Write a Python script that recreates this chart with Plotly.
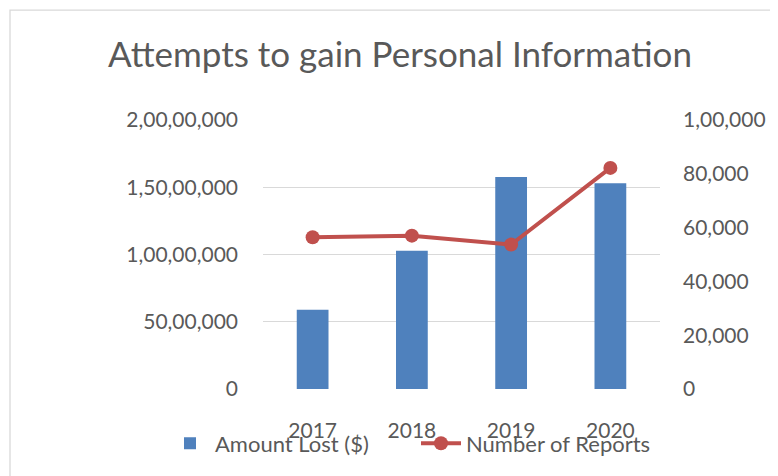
import plotly.graph_objects as go

years = ["2017", "2018", "2019", "2020"]
amount_lost = [5900000, 10270000, 15760000, 15290000]
num_reports = [56400, 57000, 53700, 82200]

left_tickvals = [0, 5000000, 10000000, 15000000, 20000000]
left_ticktext = ["0", "50,00,000", "1,00,00,000", "1,50,00,000", "2,00,00,000"]
right_tickvals = [0, 20000, 40000, 60000, 80000, 100000]
right_ticktext = ["0", "20,000", "40,000", "60,000", "80,000", "1,00,000"]

TEXT = "#595959"
FONT = "Lato"

fig = go.Figure()
fig.add_trace(go.Bar(
    x=years, y=amount_lost, name="Amount Lost ($)",
    marker=dict(color="#4F81BD", line=dict(width=0)),
))
fig.add_trace(go.Scatter(
    x=years, y=num_reports, name="Number of Reports", yaxis="y2",
    mode="lines+markers",
    line=dict(color="#C0504D", width=4),
    marker=dict(color="#C0504D", size=14),
))

# page body has an 8px margin, so layout coords are shifted by 8
W, H = 778, 476
L, T = 255, 112
R, B = W - 652, H - 381.5
pw, ph = W - L - R, H - T - B

fig.update_layout(
    width=W, height=H,
    margin=dict(l=L, r=R, t=T, b=B, autoexpand=False),
    paper_bgcolor="white", plot_bgcolor="white",
    font=dict(family=FONT, color=TEXT, size=21),
    title=dict(text="Attempts to gain Personal Information",
               font=dict(size=35, color=TEXT, family=FONT),
               x=392 / W, xanchor="center", xref="container",
               y=1 - 47 / H, yanchor="middle", yref="container"),
    bargap=0.68,
    showlegend=True,
    legend=dict(orientation="h", x=(157 - L) / pw, xanchor="left",
                y=(H - B - 436) / ph, yanchor="middle",
                font=dict(size=22, color=TEXT), bgcolor="rgba(0,0,0,0)",
                itemwidth=40, entrywidth=196, entrywidthmode="pixels"),
    xaxis=dict(type="category", range=[-0.5, 3.5], showgrid=False,
               showline=False, zeroline=False, ticks="",
               tickfont=dict(size=21), ticklabelstandoff=27),
    yaxis=dict(range=[0, 20000000], tickvals=left_tickvals, ticktext=left_ticktext,
               showgrid=True, gridcolor="#D9D9D9", gridwidth=1.3,
               zeroline=False, showline=False, ticks="",
               tickfont=dict(size=21), ticklabelstandoff=24),
    yaxis2=dict(range=[0, 100000], tickvals=right_tickvals, ticktext=right_ticktext,
                overlaying="y", side="right", showgrid=False, zeroline=False,
                showline=False, ticks="", tickfont=dict(size=21),
                ticklabelstandoff=22),
)

# light chart-area border (left/top edges visible, rest cropped)
fig.add_shape(type="rect", xref="paper", yref="paper",
              x0=(2 - L) / pw, x1=(W + 5 - L) / pw,
              y0=(H - B - (H + 5)) / ph, y1=(H - B - 2) / ph,
              line=dict(color="#D9D9D9", width=1.3), layer="below")

fig.write_html("out.html")
